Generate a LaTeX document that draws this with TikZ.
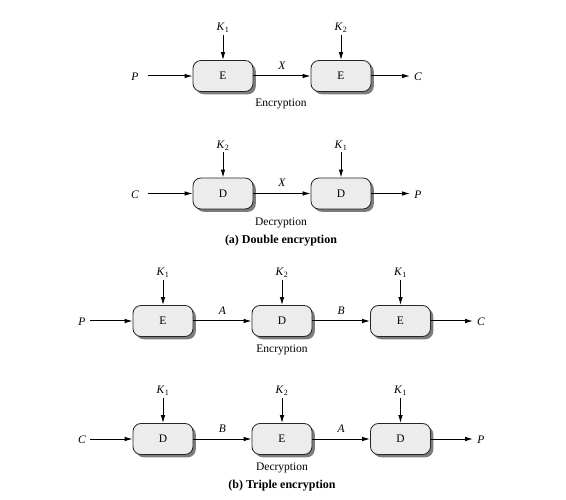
\documentclass[tikz,border=0pt]{standalone}
\usepackage{fontspec}
\setmainfont{Liberation Serif}
\usetikzlibrary{arrows.meta,shadows}
\newcommand{\Kk}[1]{\textit{K}\textsubscript{#1}}
\begin{document}
\begin{tikzpicture}[x=1pt,y=-1pt,
  font=\fontsize{11.5}{13}\selectfont,
  cbox/.style={draw=black!85, line width=0.8pt, rounded corners=8pt, fill=gray!15,
    minimum width=60pt, minimum height=31pt, inner sep=0pt,
    drop shadow={shadow xshift=2.8pt, shadow yshift=-2.8pt, fill=black!60, opacity=0.85}},
  klab/.style={anchor=south, inner sep=2pt},
  conn/.style={line width=1pt, -{Latex[length=8pt,width=4.6pt]}},
  lbl/.style={inner sep=0pt},
  captext/.style={font=\fontsize{12}{14}\selectfont\bfseries, inner sep=0pt}]
\useasboundingbox (0,0) rectangle (566,500);

% ---------- (a) Double encryption: encryption ----------
\node[cbox] (ae1) at (223,76) {E};
\node[cbox] (ae2) at (341,76) {E};
\node[klab] (ak1) at (223,35) {\Kk{1}};
\node[klab] (ak2) at (341,35) {\Kk{2}};
\node[lbl] (ap) at (135,77) {\textit{P}};
\node[lbl] (ac) at (418,77) {\textit{C}};
\coordinate (ain) at (148,76);
\coordinate (aout) at (410,76);
\draw[conn] (ak1) -- (ae1);
\draw[conn] (ak2) -- (ae2);
\draw[conn] (ain) -- (ae1);
\draw[conn] (ae1) -- node[lbl, above=6pt] (ax) {\textit{X}} (ae2);
\draw[conn] (ae2) -- (aout);
\node[lbl] (aenc) at (281,104) {Encryption};

% ---------- (a) Double encryption: decryption ----------
\node[cbox] (ad1) at (223,193.5) {D};
\node[cbox] (ad2) at (341,193.5) {D};
\node[klab] (bk2) at (223,152.5) {\Kk{2}};
\node[klab] (bk1) at (341,152.5) {\Kk{1}};
\node[lbl] (bc) at (135,194.5) {\textit{C}};
\node[lbl] (bp) at (418,194.5) {\textit{P}};
\coordinate (bin) at (148,193.5);
\coordinate (bout) at (410,193.5);
\draw[conn] (bk2) -- (ad1);
\draw[conn] (bk1) -- (ad2);
\draw[conn] (bin) -- (ad1);
\draw[conn] (ad1) -- node[lbl, above=6pt] (bx) {\textit{X}} (ad2);
\draw[conn] (ad2) -- (bout);
\node[lbl] (bdec) at (281,223) {Decryption};
\node[captext] (capa) at (281,241) {(a) Double encryption};

% ---------- (b) Triple encryption: encryption ----------
\node[cbox] (te1) at (163,321) {E};
\node[cbox] (te2) at (282,321) {D};
\node[cbox] (te3) at (400.5,321) {E};
\node[klab] (tk1) at (163,280) {\Kk{1}};
\node[klab] (tk2) at (282,280) {\Kk{2}};
\node[klab] (tk3) at (400.5,280) {\Kk{1}};
\node[lbl] (tp) at (82,322) {\textit{P}};
\node[lbl] (tc) at (481,322) {\textit{C}};
\coordinate (tin) at (90,321);
\coordinate (tout) at (473,321);
\draw[conn] (tk1) -- (te1);
\draw[conn] (tk2) -- (te2);
\draw[conn] (tk3) -- (te3);
\draw[conn] (tin) -- (te1);
\draw[conn] (te1) -- node[lbl, above=6pt] (ta) {\textit{A}} (te2);
\draw[conn] (te2) -- node[lbl, above=6pt] (tb) {\textit{B}} (te3);
\draw[conn] (te3) -- (tout);
\node[lbl] (tenc) at (282,350) {Encryption};

% ---------- (b) Triple encryption: decryption ----------
\node[cbox] (td1) at (163,439) {D};
\node[cbox] (td2) at (282,439) {E};
\node[cbox] (td3) at (400.5,439) {D};
\node[klab] (uk1) at (163,398) {\Kk{1}};
\node[klab] (uk2) at (282,398) {\Kk{2}};
\node[klab] (uk3) at (400.5,398) {\Kk{1}};
\node[lbl] (uc) at (82,440) {\textit{C}};
\node[lbl] (up) at (481,440) {\textit{P}};
\coordinate (uin) at (90,439);
\coordinate (uout) at (473,439);
\draw[conn] (uk1) -- (td1);
\draw[conn] (uk2) -- (td2);
\draw[conn] (uk3) -- (td3);
\draw[conn] (uin) -- (td1);
\draw[conn] (td1) -- node[lbl, above=6pt] (ub) {\textit{B}} (td2);
\draw[conn] (td2) -- node[lbl, above=6pt] (ua) {\textit{A}} (td3);
\draw[conn] (td3) -- (uout);
\node[lbl] (udec) at (282,468) {Decryption};
\node[captext] (capb) at (282,486) {(b) Triple encryption};
\end{tikzpicture}
\end{document}
